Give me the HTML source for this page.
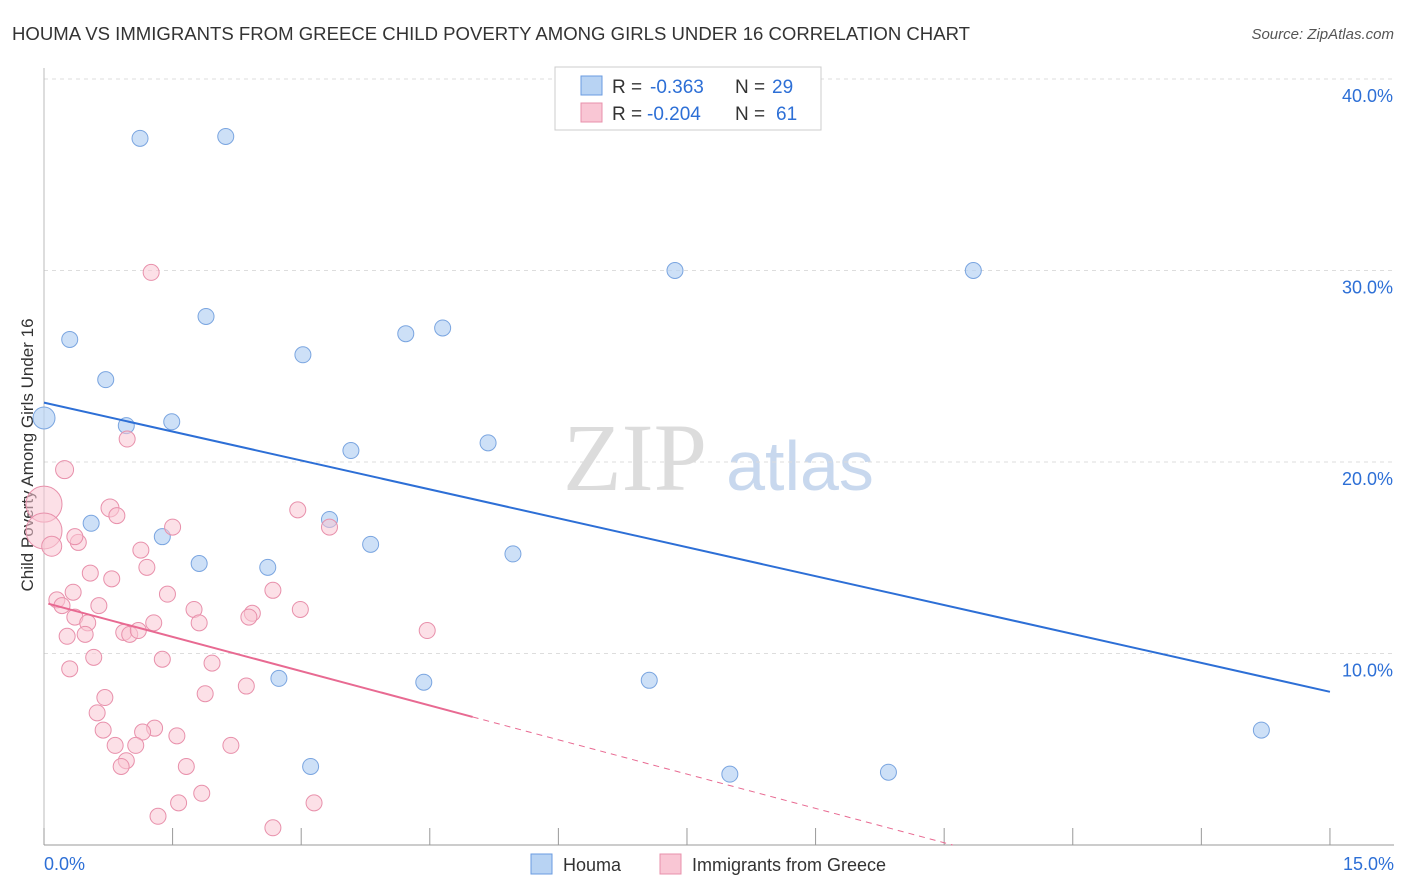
<!DOCTYPE html>
<html><head><meta charset="utf-8">
<style>
body{margin:0;background:#fff;font-family:"Liberation Sans",sans-serif;}
svg{display:block}
</style></head>
<body>
<svg id="chart" width="1406" height="892" xmlns="http://www.w3.org/2000/svg">
<text x="12" y="40" font-size="18" fill="#333" textLength="958" lengthAdjust="spacingAndGlyphs">HOUMA VS IMMIGRANTS FROM GREECE CHILD POVERTY AMONG GIRLS UNDER 16 CORRELATION CHART</text>
<text x="1394" y="39" font-size="15" fill="#555" text-anchor="end" font-style="italic">Source: ZipAtlas.com</text>
<text transform="translate(33,455) rotate(-90)" font-size="17" fill="#333" text-anchor="middle">Child Poverty Among Girls Under 16</text>
<g>
<text x="635" y="490" font-size="96" fill="#dcdcdc" text-anchor="middle" font-family="Liberation Serif,serif">ZIP</text>
<text x="800" y="490" font-size="70" fill="#c8d8ee" text-anchor="middle">atlas</text>
</g>
<g id="grid"></g><g id="axes"></g><g id="marks"></g>
<g>
<rect x="555" y="67" width="266" height="63" fill="#fff" stroke="#ccc"/>
<rect x="581" y="76" width="21" height="19" fill="#b8d3f3" stroke="#6a9be0"/>
<rect x="581" y="103" width="21" height="19" fill="#f9c6d4" stroke="#e890ab"/>
<text x="612" y="93" font-size="19" fill="#333">R =</text>
<text x="650" y="93" font-size="19" fill="#2d6fd6">-0.363</text>
<text x="735" y="93" font-size="19" fill="#333">N =</text>
<text x="772" y="93" font-size="19" fill="#2d6fd6">29</text>
<text x="612" y="120" font-size="19" fill="#333">R =</text>
<text x="647" y="120" font-size="19" fill="#2d6fd6">-0.204</text>
<text x="735" y="120" font-size="19" fill="#333">N =</text>
<text x="776" y="120" font-size="19" fill="#2d6fd6">61</text>
</g>
<g>
<rect x="531" y="854" width="21" height="20" fill="#b8d3f3" stroke="#6a9be0"/>
<text x="563" y="871" font-size="18" fill="#333">Houma</text>
<rect x="660" y="854" width="21" height="20" fill="#f9c6d4" stroke="#e890ab"/>
<text x="692" y="871" font-size="18" fill="#333">Immigrants from Greece</text>
</g>
</svg>
<script>
const yTicks=[10,20,30,40];
const yTickLabels=["10.0%","20.0%","30.0%","40.0%"];
const xTickLabels=["0.0%","15.0%"];
const houmaX=[0,1.12,2.12,0.30,0.72,0.96,1.49,1.89,3.02,4.22,4.65,3.58,5.18,7.36,10.84,0.55,1.38,3.33,3.81,5.47,1.81,2.61,2.74,4.43,7.06,3.11,8.0,9.85,14.2];
const houmaY=[22.3,36.9,37.0,26.4,24.3,21.9,22.1,27.6,25.6,26.7,27.0,20.6,21.0,30.0,30.0,16.8,16.1,17.0,15.7,15.2,14.7,14.5,8.7,8.5,8.6,4.1,3.7,3.8,6.0];
const greeceX=[1.25,0,0,0.09,0.24,0.97,0.77,0.85,0.40,0.36,1.13,1.50,2.96,3.33,0.54,0.79,1.20,0.34,0.15,0.21,0.64,1.44,2.67,0.36,0.51,1.75,1.81,2.43,2.39,2.99,1.28,0.48,0.27,0.93,1.0,1.10,4.47,0.58,0.30,1.38,1.96,0.71,1.88,2.36,0.62,0.69,1.29,1.15,1.55,0.83,1.07,2.18,0.96,0.90,1.66,1.84,1.57,3.15,1.33,2.67];
const greeceY=[29.9,17.8,16.4,15.6,19.6,21.2,17.6,17.2,15.8,16.1,15.4,16.6,17.5,16.6,14.2,13.9,14.5,13.2,12.8,12.5,12.5,13.1,13.3,11.9,11.6,12.3,11.6,12.1,11.9,12.3,11.6,11.0,10.9,11.1,11.0,11.2,11.2,9.8,9.2,9.7,9.5,7.7,7.9,8.3,6.9,6.0,6.1,5.9,5.7,5.2,5.2,5.2,4.4,4.1,4.1,2.7,2.2,2.2,1.5,0.9];
const greeceR=[8,18,18,10,9,8,9,8,8,8,8,8,8,8,8,8,8,8,8,8,8,8,8,8,8,8,8,8,8,8,8,8,8,8,8,8,8,8,8,8,8,8,8,8,8,8,8,8,8,8,8,8,8,8,8,8,8,8,8,8];
const houmaTrend=[23.1,8.0];
const greeceTrend=[12.6,0.0];
const X=v=>44+v*85.73, Y=v=>845-v*19.15;
const NS="http://www.w3.org/2000/svg";
function mk(t,a,p){const e=document.createElementNS(NS,t);for(const k in a)e.setAttribute(k,a[k]);p.appendChild(e);return e;}
const grid=document.getElementById('grid'),axes=document.getElementById('axes'),marks=document.getElementById('marks');
yTicks.forEach((t,i)=>{
 const l=mk('line',{x1:44,x2:1394,y1:Y(t),y2:Y(t),stroke:'#ddd','stroke-dasharray':'4,4'},grid);
 
 
 const tx=mk('text',{x:1393,y:Y(t)+23,'font-size':18,fill:'#2d6fd6','text-anchor':'end'},axes);
 tx.textContent=yTickLabels[i];
 
 
});
mk('line',{x1:44,x2:1394,y1:845,y2:845,stroke:'#999'},axes);
mk('line',{x1:44,x2:44,y1:68,y2:845,stroke:'#bbb'},axes);
for(let i=0;i<=10;i++){const t=mk('line',{x1:X(i*1.5),x2:X(i*1.5),y1:828,y2:845,stroke:'#999'},axes);
 
 }
const xl0=mk('text',{x:44,y:870,'font-size':18,fill:'#2d6fd6'},axes);xl0.textContent=xTickLabels[0];

const xl1=mk('text',{x:1394,y:870,'font-size':18,fill:'#2d6fd6','text-anchor':'end'},axes);xl1.textContent=xTickLabels[1];

houmaX.forEach((x,i)=>{const c=mk('circle',{cx:X(x),cy:Y(houmaY[i]),r:(i==0?11:8),fill:'rgba(184,211,243,0.7)',stroke:'#7aa5e0','stroke-width':1},marks);
 
 });
greeceX.forEach((x,i)=>{const c=mk('circle',{cx:X(x),cy:Y(greeceY[i]),r:greeceR[i],fill:'rgba(249,198,212,0.55)',stroke:'#e890ab','stroke-width':1},marks);
 
 });
const hl=mk('line',{x1:X(0),y1:Y(houmaTrend[0]),x2:X(15),y2:Y(houmaTrend[1]),stroke:'#2d6fd6','stroke-width':2},marks);


const slope=(greeceTrend[1]-greeceTrend[0])/10.55;
const gl=mk('line',{x1:X(0.05),y1:Y(greeceTrend[0]),x2:X(5),y2:Y(greeceTrend[0]+slope*4.95),stroke:'#e86a92','stroke-width':2},marks);


const gd=mk('line',{x1:X(5),y1:Y(greeceTrend[0]+slope*4.95),x2:X(10.6),y2:Y(greeceTrend[0]+slope*10.55),stroke:'#e86a92','stroke-width':1,'stroke-dasharray':'6,5'},marks);


</script>
</body></html>
